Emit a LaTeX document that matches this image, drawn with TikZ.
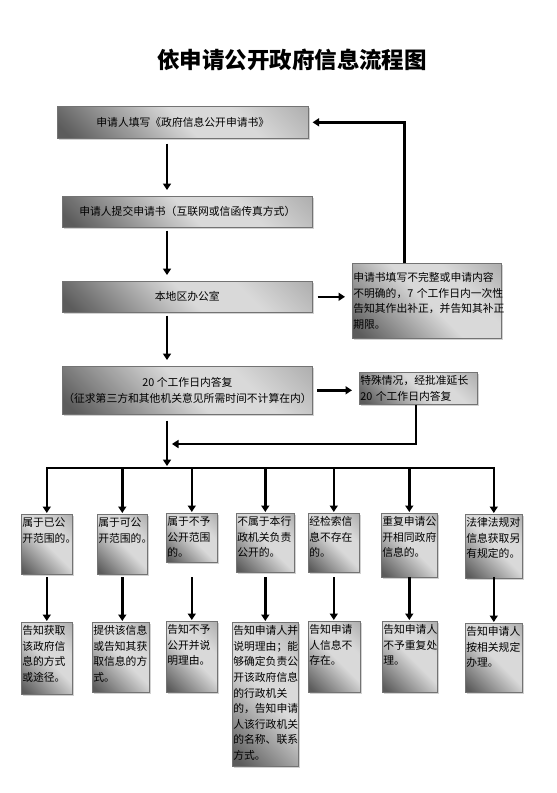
\documentclass[tikz,border=0pt]{standalone}
\usepackage{fontspec}
\setmainfont{Noto Sans CJK SC}
\usetikzlibrary{arrows.meta,shadows}
\definecolor{dk}{gray}{0.36}
\definecolor{lt}{gray}{0.85}
\definecolor{md}{gray}{0.66}
\pgfdeclarehorizontalshading{boxgrad}{100bp}{color(0bp)=(dk); color(18bp)=(dk); color(50bp)=(lt); color(66bp)=(lt); color(88bp)=(md); color(100bp)=(md)}
\newcommand\cellbox[3]{\parbox[t][#2][t]{#1}{\raggedright\strut #3}}
\tikzset{
  box/.style={draw=black!55, line width=0.6pt, shading=boxgrad, shading angle=45,
    drop shadow={shadow xshift=1.5pt, shadow yshift=-1.5pt, opacity=0.35},
    font=\fontsize{10.8}{15.6}\selectfont, text=black},
  wide/.style={box, anchor=north west, align=center, inner sep=1pt},
  widel/.style={box, anchor=north west, align=left, inner sep=1pt},
  cell/.style={box, anchor=north west, inner xsep=1pt, inner ysep=1.5pt},
  ln/.style={line width=2.4pt, black},
  barline/.style={ln, line cap=rect},
  arr/.style={ln, -{Triangle[length=6.5pt,width=8pt]}},
  titlefont/.style={font=\bfseries\fontsize{22.5}{26}\selectfont}
}
\begin{document}
\begin{tikzpicture}[x=1pt,y=-1pt]
\fill[white] (0,0) rectangle (557,793);
\useasboundingbox (0,0) rectangle (557,793);

\node[titlefont] (title) at (292,60) {依申请公开政府信息流程图};

% main column
\node[wide, minimum width=251pt, minimum height=32pt] (b1) at (57,106) {申请人填写《政府信息公开申请书》};
\node[wide, minimum width=250pt, minimum height=31pt] (b2) at (62,196) {申请人提交申请书（互联网或信函传真方式）};
\node[wide, minimum width=250pt, minimum height=31pt] (b3) at (62,281) {本地区办公室};
\node[wide, minimum width=246pt, minimum height=48pt] (b4) at (62,366) {20~个工作日内答复\\（征求第三方和其他机关意见所需时间不计算在内）};

% side boxes
\node[widel, text width=147pt, minimum height=75pt] (a) at (352,263) {申请书填写不完整或申请内容\\\mbox{不明确的，7 个工作日内一次性}\\告知其作出补正，并告知其补正\\期限。};
\node[widel, text width=116pt, minimum height=32pt] (b) at (359,372) {特殊情况，经批准延长\\\mbox{20 个工作日内答复}};

% first row
\node[cell] (c1) at (21,514) {\cellbox{49pt}{57pt}{属于已公\\开范围的。}};
\node[cell] (c2) at (97,514) {\cellbox{48pt}{57pt}{属于可公\\开范围的。}};
\node[cell] (c3) at (166,513) {\cellbox{49pt}{46pt}{属于不予\\公开范围\\的。}};
\node[cell] (c4) at (236,513) {\cellbox{56pt}{56pt}{不属于本行\\政机关负责\\公开的。}};
\node[cell] (c5) at (308,513) {\cellbox{49pt}{56pt}{经检索信\\息不存在\\的。}};
\node[cell] (c6) at (381,513) {\cellbox{54pt}{61pt}{重复申请公\\开相同政府\\信息的。}};
\node[cell] (c7) at (465,514) {\cellbox{55pt}{61pt}{法律法规对\\信息获取另\\有规定的。}};

% second row
\node[cell] (d1) at (21,622) {\cellbox{49pt}{69pt}{告知获取\\该政府信\\息的方式\\或途径。}};
\node[cell] (d2) at (92,622) {\cellbox{55pt}{67pt}{提供该信息\\或告知其获\\取信息的方\\式。}};
\node[cell] (d3) at (166,621) {\cellbox{49pt}{68pt}{告知不予\\公开并说\\明理由。}};
\node[cell] (d4) at (232,622) {\cellbox{64pt}{141pt}{告知申请人并\\说明理由；能\\够确定负责公\\开该政府信息\\的行政机关\\的，告知申请\\人该行政机关\\的名称、联系\\方式。}};
\node[cell] (d5) at (308,621) {\cellbox{50pt}{68pt}{告知申请\\人信息不\\存在。}};
\node[cell] (d6) at (382,621) {\cellbox{53pt}{68pt}{告知申请人\\不予重复处\\理。}};
\node[cell] (d7) at (465,623) {\cellbox{55pt}{66pt}{告知申请人\\按相关规定\\办理。}};

% helper coordinates
\coordinate (trunk) at (167,0);
\coordinate (barL) at (0,468);
\coordinate (mergept) at (172,444);
\coordinate (rowtop) at (0,577);

% main column arrows
\draw[arr, shorten <=5pt, shorten >=6pt] (b1.south -| trunk) -- (b2.north -| trunk);
\draw[arr, shorten <=3pt, shorten >=6pt] (b2.south -| trunk) -- (b3.north -| trunk);
\draw[arr, shorten <=3pt, shorten >=6pt] (b3.south -| trunk) -- (b4.north -| trunk);
\draw[arr, shorten <=6pt, shorten >=2pt] (b4.south -| trunk) -- (trunk |- barL);

% side arrows
\draw[arr, shorten <=5pt, shorten >=7pt] (b3.east) -- (b3.east -| a.west);
\draw[arr] ([xshift=-22.5pt]a.north) |- ([xshift=4pt]b1.east);
\draw[arr, shorten <=4pt, shorten >=7pt] (b4.east) -- (b4.east -| b.west);
\draw[arr] ([xshift=-2.5pt]b.south) |- (mergept);

% distribution bar
\draw[barline] (c1.north |- barL) -- (c7.north |- barL);
\foreach \n in {c1,c2,c3,c4,c5,c6,c7}{
  \draw[arr, shorten >=1pt] (\n.north |- barL) -- (\n.north);
}
% row 1 to row 2
\foreach \u/\v in {c1/d1,c2/d2,c3/d3,c4/d4,c5/d5,c6/d6,c7/d7}{
  \draw[arr, shorten >=1pt] (\u.south |- rowtop) -- (\u.south |- \v.north);
}
\end{tikzpicture}
\end{document}
